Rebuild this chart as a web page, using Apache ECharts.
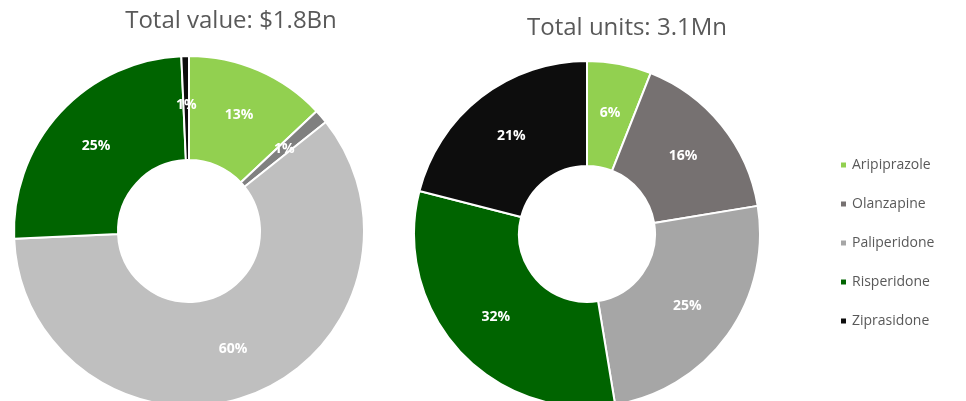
<!DOCTYPE html>
<html>
<head>
<meta charset="utf-8">
<script src="https://cdn.jsdelivr.net/npm/echarts@6/dist/echarts.min.js"></script>
<style>
  html, body { margin: 0; padding: 0; background: #fff; }
  #main { width: 966px; height: 401px; }
</style>
</head>
<body>
<div id="main"></div>
<script>
// drug names, in the order of the legend and the slices
var drugs = ['Aripiprazole', 'Olanzapine', 'Paliperidone', 'Risperidone', 'Ziprasidone'];
// share of total value (%)
var valueShare = [13, 1.3, 60, 25, 0.7];
// share of total units (%)
var unitShare = [6, 16.4, 25, 31.6, 21];
var valueColors = ['#92d050', '#808080', '#bfbfbf', '#006400', '#0d0d0d'];
var unitColors = ['#92d050', '#767171', '#a6a6a6', '#006400', '#0d0d0d'];

var chartDom = document.getElementById('main');
var myChart = echarts.init(chartDom);

function toData(vals, colors) {
  return drugs.map(function (name, i) {
    return { name: name, value: vals[i], itemStyle: { color: colors[i] } };
  });
}

var labelStyle = {
  show: true,
  position: 'inside',
  color: '#fff',
  fontWeight: 'bold',
  fontSize: 14,
  fontFamily: 'Open Sans',
  formatter: function (p) { return Math.round(p.percent) + '%'; }
};

myChart.setOption({
  animation: false,
  title: [
    {
      text: 'Total value: $1.8Bn',
      left: 226, top: 4, textAlign: 'center',
      textStyle: { color: '#595959', fontSize: 24, fontWeight: 'normal', fontFamily: 'Open Sans' }
    },
    {
      text: 'Total units: 3.1Mn',
      left: 622, top: 11, textAlign: 'center',
      textStyle: { color: '#595959', fontSize: 24, fontWeight: 'normal', fontFamily: 'Open Sans' }
    }
  ],
  legend: {
    orient: 'vertical',
    left: 834,
    top: 153,
    itemGap: 25,
    itemWidth: 7,
    itemHeight: 7,
    icon: 'rect',
    textStyle: { color: '#595959', fontSize: 14, fontFamily: 'Open Sans' },
    data: drugs.map(function (name, i) {
      return { name: name, itemStyle: { color: unitColors[i] } };
    })
  },
  series: [
    {
      type: 'pie',
      center: [189, 231],
      radius: [71, 175],
      startAngle: 90,
      clockwise: true,
      itemStyle: { borderColor: '#fff', borderWidth: 2 },
      label: labelStyle,
      labelLine: { show: false },
      emphasis: { disabled: true },
      data: toData(valueShare, valueColors)
    },
    {
      type: 'pie',
      center: [587, 234],
      radius: [68, 173],
      startAngle: 90,
      clockwise: true,
      itemStyle: { borderColor: '#fff', borderWidth: 2 },
      label: labelStyle,
      labelLine: { show: false },
      emphasis: { disabled: true },
      data: toData(unitShare, unitColors)
    }
  ]
});
</script>
</body>
</html>
